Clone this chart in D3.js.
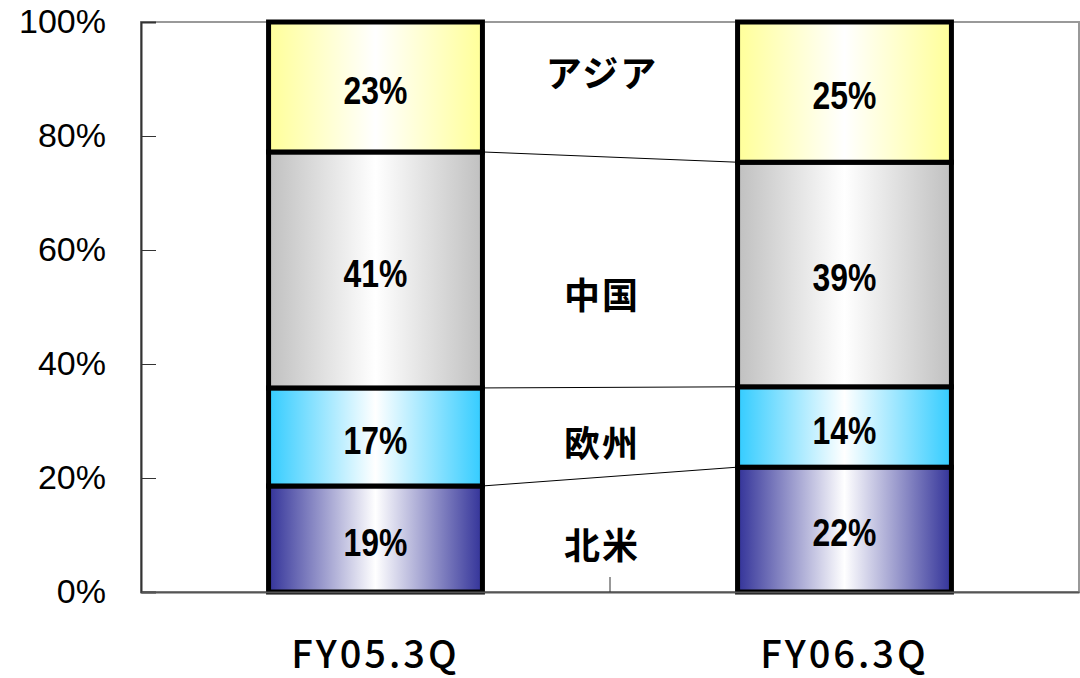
<!DOCTYPE html>
<html lang="ja">
<head>
<meta charset="utf-8">
<title>地域別構成比</title>
<script src="https://d3js.org/d3.v7.min.js"></script>
<style>
  body { margin: 0; background: #fff; }
</style>
</head>
<body>
<div id="chart"></div>
<script>
// categories and series (bottom to top)
const categories = ["FY05.3Q", "FY06.3Q"];
const regions = ["北米", "欧州", "中国", "アジア"];
const northAmerica = [0.186, 0.219];
const europe = [0.172, 0.141];
const china = [0.414, 0.394];
const asia = [0.228, 0.246];
const yTicks = [0, 0.2, 0.4, 0.6, 0.8, 1.0];

const seriesValues = [northAmerica, europe, china, asia];
const edgeColors = ["#333399", "#33ccff", "#c0c0c0", "#ffff99"];

const W = 1080, H = 678;
const margin = {top: 22, right: 1, bottom: 86, left: 141};
const width = W - margin.left - margin.right,
      height = H - margin.top - margin.bottom;

const svg = d3.select("#chart").append("svg")
  .attr("width", W).attr("height", H);

// gradients: coloured edges, white middle
const defs = svg.append("defs");
edgeColors.forEach((c, i) => {
  const gr = defs.append("linearGradient").attr("id", "grad" + i)
    .attr("x1", "0%").attr("x2", "100%").attr("y1", "0%").attr("y2", "0%");
  gr.append("stop").attr("offset", "0%").attr("stop-color", c);
  gr.append("stop").attr("offset", "50%").attr("stop-color", "#ffffff");
  gr.append("stop").attr("offset", "100%").attr("stop-color", c);
});

const g = svg.append("g").attr("transform", `translate(${margin.left},${margin.top})`);

const x = d3.scaleBand().domain(categories).range([0, width]).paddingInner(0.544).paddingOuter(0.272);
const y = d3.scaleLinear().domain([0, 1]).range([height, 0]);

// plot frame
g.append("rect").attr("x", 0).attr("y", 0).attr("width", width).attr("height", height)
  .attr("fill", "none").attr("stroke", "#999").attr("stroke-width", 2);

// stacked data
const rows = categories.map((c, i) => {
  const r = {cat: c};
  regions.forEach((s, j) => r[s] = seriesValues[j][i]);
  return r;
});
const stack = d3.stack().keys(regions)(rows);

// connector lines between bars
stack.slice(0, 3).forEach(layer => {
  g.append("line")
    .attr("x1", x(categories[0]) + x.bandwidth())
    .attr("y1", y(layer[0][1]))
    .attr("x2", x(categories[1]))
    .attr("y2", y(layer[1][1]))
    .attr("stroke", "#000").attr("stroke-width", 1);
});

// bars
stack.forEach((layer, i) => {
  g.selectAll(null).data(layer).join("rect")
    .attr("x", d => x(d.data.cat))
    .attr("y", d => y(d[1]))
    .attr("width", x.bandwidth())
    .attr("height", d => y(d[0]) - y(d[1]))
    .attr("fill", `url(#grad${i})`)
    .attr("stroke", "#000").attr("stroke-width", 5);

  g.selectAll(null).data(layer).join("text")
    .attr("transform", d => `translate(${x(d.data.cat) + x.bandwidth() / 2},${(y(d[0]) + y(d[1])) / 2 + 3}) scale(0.84,1)`)
    .attr("text-anchor", "middle").attr("dy", "0.36em")
    .attr("font-family", "Liberation Sans, Arial, sans-serif")
    .attr("font-size", 38).attr("font-weight", "bold")
    .text(d => d3.format(".0%")(d[1] - d[0]));
});

// region labels in the middle gap
const midX = (x(categories[0]) + x.bandwidth() + x(categories[1])) / 2;
const regionY = [0.08, 0.26, 0.52, 0.909];
regions.forEach((s, i) => {
  g.append("text")
    .attr("x", midX - 8).attr("y", y(regionY[i]))
    .attr("text-anchor", "middle").attr("dy", "0.36em")
    .attr("font-family", "Noto Sans CJK JP, sans-serif")
    .attr("font-size", 36).attr("font-weight", "bold")
    .attr("letter-spacing", 2)
    .text(s);
});

// Y axis
const yAxis = g.append("g")
  .call(d3.axisLeft(y).tickValues(yTicks).tickFormat(d3.format(".0%")).tickSize(-15).tickPadding(35));
yAxis.select(".domain").attr("stroke", "#333").attr("stroke-width", 2);
yAxis.selectAll(".tick line").attr("stroke", "#333");
yAxis.selectAll("text")
  .attr("fill", "#000")
  .attr("font-size", 34)
  .attr("font-family", "Liberation Sans, Arial, sans-serif");

// X axis
const xAxis = g.append("g").attr("transform", `translate(0,${height})`)
  .call(d3.axisBottom(x).tickSize(0).tickPadding(0));
xAxis.select(".domain").attr("stroke", "#555").attr("stroke-width", 2);
xAxis.selectAll("text")
  .attr("fill", "#000")
  .attr("y", 76).attr("dy", 0)
  .attr("font-size", 38).attr("font-weight", 500)
  .attr("font-family", "Noto Sans CJK JP, sans-serif")
  .attr("letter-spacing", 3);
// middle tick between categories
xAxis.append("line").attr("x1", width / 2).attr("x2", width / 2).attr("y1", 0).attr("y2", -15).attr("stroke", "#333");
</script>
</body>
</html>
